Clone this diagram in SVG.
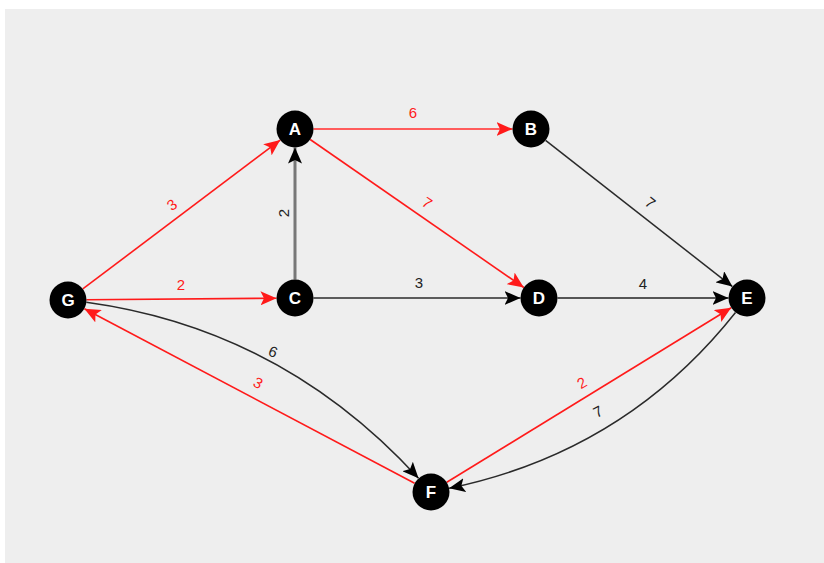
<svg xmlns="http://www.w3.org/2000/svg" width="824" height="563" viewBox="0 0 824 563">
<style>
.bg{fill:#eeeeee}
.node circle{fill:#000}
.node text{fill:#fff;font-family:"Liberation Sans",Arial,sans-serif;font-weight:bold;font-size:17px;text-anchor:middle}
.e{fill:none}
.red{stroke:#ff1a1a;stroke-width:1.6}
.blk{stroke:#2a2a2a;stroke-width:1.5}
.lbl{font-family:"Liberation Sans",Arial,sans-serif;font-size:15px;text-anchor:middle}
.lr{fill:#ff1a1a}
.lb{fill:#222}
</style>
<defs>
<marker id="ar" markerUnits="userSpaceOnUse" markerWidth="16" markerHeight="14" viewBox="0 0 16 14" refX="16" refY="7" orient="auto"><path d="M0,0 L16,7 L0,14 L3.5,7 z" fill="#ff1a1a"/></marker>
<marker id="ab" markerUnits="userSpaceOnUse" markerWidth="16" markerHeight="14" viewBox="0 0 16 14" refX="16" refY="7" orient="auto"><path d="M0,0 L16,7 L0,14 L3.5,7 z" fill="#000"/></marker>
</defs>
<rect class="bg" x="5" y="9" width="819" height="554"/>
<g id="connectors">
<line class="e" x1="313.5" y1="129" x2="512.5" y2="129" stroke="#ff5c5c" stroke-width="2" marker-end="url(#ar)"/>
<line class="e red" x1="82.8" y1="288.9" x2="280.2" y2="140.1" marker-end="url(#ar)"/>
<line class="e red" x1="86.5" y1="299.8" x2="276.5" y2="298.2" marker-end="url(#ar)"/>
<line class="e" x1="295" y1="279.5" x2="295" y2="147.5" stroke="#777" stroke-width="3" marker-end="url(#ab)"/>
<line class="e red" x1="310.2" y1="139.5" x2="523.8" y2="287.5" marker-end="url(#ar)"/>
<line class="e blk" x1="313.5" y1="298" x2="520.5" y2="298" marker-end="url(#ab)"/>
<line class="e blk" x1="545.6" y1="140.4" x2="732.4" y2="286.6" marker-end="url(#ab)"/>
<line class="e" x1="557.5" y1="298" x2="728.5" y2="298" stroke="#555" stroke-width="2" marker-end="url(#ab)"/>
<line class="e red" x1="414.6" y1="483.3" x2="84.4" y2="308.7" marker-end="url(#ar)"/>
<line class="e red" x1="446.8" y1="482.3" x2="731.2" y2="307.7" marker-end="url(#ar)"/>
<path class="e blk" d="M86.3,302.2 Q282,329 418.5,478.3" stroke-width="1.3" marker-end="url(#ab)"/>
<path class="e blk" d="M735.5,312.5 Q625,452 449.1,488.3" stroke-width="1.3" marker-end="url(#ab)"/>
<text class="lbl lr" x="413" y="118">6</text>
<text class="lbl lr" transform="translate(427,203) rotate(34.5)" y="5">7</text>
<text class="lbl lb" transform="translate(650,203) rotate(38)" y="5">7</text>
<text class="lbl lr" transform="translate(172,205) rotate(-37)" y="5">3</text>
<text class="lbl lr" x="181" y="290">2</text>
<text class="lbl lb" transform="translate(284,213) rotate(-90)" y="5">2</text>
<text class="lbl lb" x="419" y="288">3</text>
<text class="lbl lb" x="643" y="289">4</text>
<text class="lbl lb" transform="translate(273,352) rotate(22)" y="5">6</text>
<text class="lbl lr" transform="translate(258,383) rotate(28)" y="5">3</text>
<text class="lbl lr" transform="translate(582,383) rotate(-31)" y="5">2</text>
<text class="lbl lb" transform="translate(598,412) rotate(-28)" y="5">7</text>
</g>
<g id="node-A" class="node"><circle cx="295" cy="129" r="18.5"/><text x="295" y="135">A</text></g>
<g id="node-B" class="node"><circle cx="531" cy="129" r="18.5"/><text x="531" y="135">B</text></g>
<g id="node-C" class="node"><circle cx="295" cy="298" r="18.5"/><text x="295" y="304">C</text></g>
<g id="node-D" class="node"><circle cx="539" cy="298" r="18.5"/><text x="539" y="304">D</text></g>
<g id="node-E" class="node"><circle cx="747" cy="298" r="18.5"/><text x="747" y="304">E</text></g>
<g id="node-F" class="node"><circle cx="431" cy="492" r="18.5"/><text x="431" y="498">F</text></g>
<g id="node-G" class="node"><circle cx="68" cy="300" r="18.5"/><text x="68" y="306">G</text></g>
</svg>
